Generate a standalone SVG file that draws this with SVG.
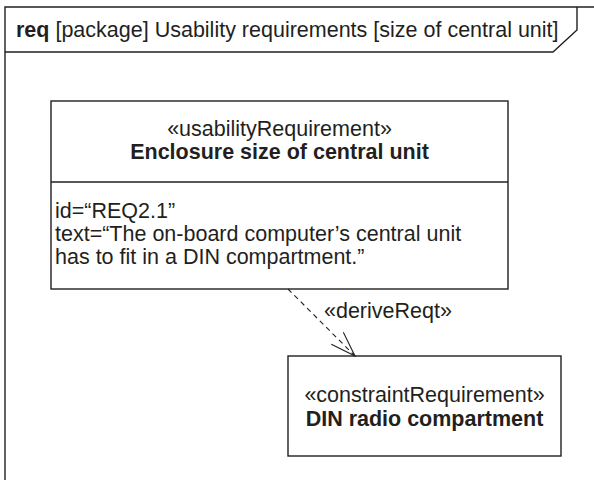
<svg xmlns="http://www.w3.org/2000/svg" width="594" height="480" viewBox="0 0 594 480">
<defs>
<style>
.ln{fill:none;stroke:#231f20;stroke-width:1.4}
.box{fill:#fff;stroke:#231f20;stroke-width:1.4}
.t{font-family:"Liberation Sans",Arial,Helvetica,sans-serif;font-size:21.5px;fill:#231f20}
.b{font-weight:bold}
.c{text-anchor:middle}
.dash{fill:none;stroke:#231f20;stroke-width:1.1;stroke-dasharray:5 4}
</style>
<marker id="open" viewBox="0 0 30 20" refX="28" refY="10" markerWidth="30" markerHeight="20" markerUnits="userSpaceOnUse" orient="auto">
<path d="M3,1.5 L28,10 L3,18.5" fill="none" stroke="#231f20" stroke-width="1.1"/>
</marker>
</defs>
<rect width="594" height="480" fill="#fff"/>
<g id="frame">
<path class="ln" d="M5,480 L5,7 L594,7"/>
<path class="ln" d="M5,52 L553,52 L577,30 L577,7"/>
<text class="t" x="16" y="37"><tspan class="b">req</tspan> [package] Usability requirements [size of central unit]</text>
</g>
<g id="req1">
<rect class="box" x="51" y="101" width="457" height="188"/>
<line class="ln" x1="51" y1="182" x2="508" y2="182"/>
<text class="t c" x="279.5" y="135.5">«usabilityRequirement»</text>
<text class="t c b" x="279.5" y="158.5">Enclosure size of central unit</text>
<text class="t" x="55" y="218">id=“REQ2.1”</text>
<text class="t" x="55" y="241">text=“The on-board computer’s central unit</text>
<text class="t" x="55" y="264">has to fit in a DIN compartment.”</text>
</g>
<g id="req2">
<rect class="box" x="288" y="356" width="273" height="100"/>
<text class="t c" x="424.5" y="402">«constraintRequirement»</text>
<text class="t c b" x="424.5" y="426">DIN radio compartment</text>
</g>
<g id="connectors">
<line class="dash" x1="288" y1="289" x2="355" y2="356" marker-end="url(#open)"/>
<text class="t" x="324" y="318">«deriveReqt»</text>
</g>
</svg>
